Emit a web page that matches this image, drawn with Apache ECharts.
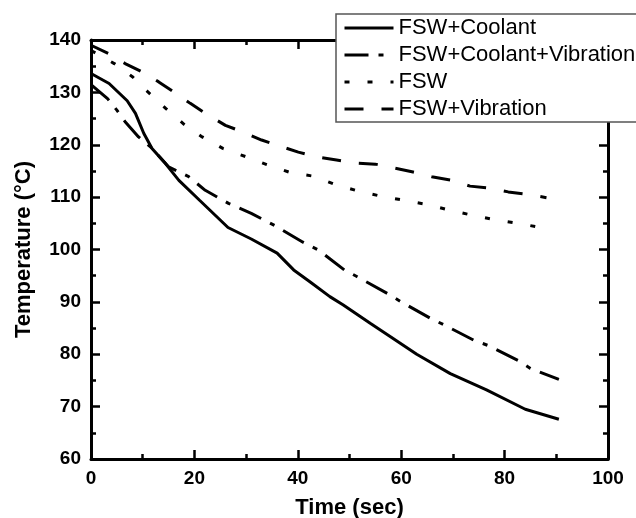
<!DOCTYPE html>
<html>
<head>
<meta charset="utf-8">
<script src="https://cdn.jsdelivr.net/npm/echarts@6/dist/echarts.min.js"></script>
<style>html,body{margin:0;padding:0;background:#fff;}#c{width:636px;height:518px;}</style>
</head>
<body>
<div id="c"></div>
<script>
var seriesNames = ['FSW+Coolant', 'FSW+Coolant+Vibration', 'FSW', 'FSW+Vibration'];

var timeCoolant = [0, 3.5, 7, 8.6, 10.2, 11.8, 14.4, 17, 21, 26.5, 31, 36, 39.2, 42.4, 46.2, 48.8, 54, 58, 63, 69.5, 76.5, 84, 90.5];
var tempCoolant = [133.6, 131.7, 128.4, 126, 122.2, 119.3, 116.4, 113.2, 109.4, 104.2, 102, 99.3, 96.1, 93.8, 91.0, 89.4, 85.9, 83.3, 80, 76.3, 73.2, 69.5, 67.6];

var timeCoolantVib = [0, 3.2, 5, 6.6, 9.2, 11.5, 15, 18.9, 22.1, 26.6, 31, 35.5, 41, 44, 49, 51.5, 57.5, 60, 65.6, 68.5, 74, 77, 83, 85, 90.5];
var tempCoolantVib = [131.5, 128.8, 126.6, 124.4, 121.5, 119.6, 115.8, 113.9, 111.3, 108.8, 106.9, 104.6, 101.4, 99.9, 96.1, 94.8, 91.5, 90, 86.9, 85.5, 82.7, 81.6, 78.6, 77.3, 75.2];

var timeFSW = [0, 4.5, 8, 11, 14.5, 18, 21.5, 25.5, 30, 34, 38.5, 43, 47, 51.5, 56, 60.5, 65, 69, 73.5, 78, 82.5, 87.5];
var tempFSW = [138, 135.5, 133, 130.1, 126.9, 123.9, 121.5, 119.3, 117.7, 116.2, 114.7, 114, 112.5, 111.2, 110.2, 109.4, 108.6, 107.6, 106.6, 105.7, 105, 104.1];

var timeVib = [0, 3.4, 6.6, 9.9, 13.1, 16, 19.2, 22.1, 26, 29.2, 33, 36.3, 40.1, 43.7, 47.5, 51.3, 55, 58.5, 62.3, 65.9, 69.8, 73.3, 77.2, 80.7, 84.6, 88.1];
var tempVib = [139, 137.4, 135.5, 133.9, 132, 130.1, 127.9, 126, 123.7, 122.5, 120.9, 119.8, 118.6, 117.7, 117.1, 116.5, 116.3, 115.6, 114.8, 113.9, 113.2, 112.1, 111.7, 111.0, 110.5, 109.9];

function pairs(xs, ys) { return xs.map(function (x, i) { return [x, ys[i]]; }); }

var FONT = '"Liberation Sans", Arial, sans-serif';
var dashes = ['solid', [24, 10, 5, 10], [5, 18], [19, 18]];
var xsAll = [timeCoolant, timeCoolantVib, timeFSW, timeVib];
var ysAll = [tempCoolant, tempCoolantVib, tempFSW, tempVib];

var chart = echarts.init(document.getElementById('c'), null, {renderer: 'canvas'});

function axisCommon(show) {
  return {
    axisLine: {show: true, onZero: false, lineStyle: {color: '#000', width: 3}},
    axisTick: {show: true, inside: true, length: 9, lineStyle: {color: '#000', width: 2.5}},
    minorTick: {show: true, splitNumber: 2, length: 5, lineStyle: {color: '#000', width: 2.5}},
    splitLine: {show: false},
    axisLabel: {show: show, color: '#000', fontFamily: FONT, fontWeight: 'bold', fontSize: 19}
  };
}

var xBottom = Object.assign(axisCommon(true), {
  type: 'value', min: 0, max: 100, interval: 20, position: 'bottom',
  name: 'Time (sec)', nameLocation: 'middle', nameGap: 38,
  nameTextStyle: {color: '#000', fontFamily: FONT, fontWeight: 'bold', fontSize: 22}
});
xBottom.axisLabel.margin = 10;
var xTop = Object.assign(axisCommon(false), {type: 'value', min: 0, max: 100, interval: 20, position: 'top'});
var yLeft = Object.assign(axisCommon(true), {
  type: 'value', min: 60, max: 140, interval: 10, position: 'left',
  name: 'Temperature (°C)', nameLocation: 'middle', nameGap: 56,
  nameTextStyle: {color: '#000', fontFamily: FONT, fontWeight: 'bold', fontSize: 22}
});
yLeft.axisLabel.margin = 10;
var yRight = Object.assign(axisCommon(false), {type: 'value', min: 60, max: 140, interval: 10, position: 'right'});

var series = seriesNames.map(function (name, i) {
  return {
    name: name, type: 'line', xAxisIndex: 0, yAxisIndex: 0,
    data: pairs(xsAll[i], ysAll[i]),
    symbol: 'none', smooth: false, animation: false,
    lineStyle: {color: '#000', width: 3, type: dashes[i], cap: 'butt'},
    itemStyle: {color: '#000'}
  };
});

chart.setOption({
  animation: false,
  backgroundColor: '#fff',
  grid: {left: 91, right: 28, top: 40, bottom: 59, containLabel: false, outerBoundsMode: 'none'},
  xAxis: [xBottom, xTop],
  yAxis: [yLeft, yRight],
  legend: {
    show: true, orient: 'vertical', left: 336, top: 14,
    backgroundColor: '#fff', borderColor: '#555', borderWidth: 1.5,
    padding: [2, 20, 1, 7], itemGap: 3, itemWidth: 49, itemHeight: 14,
    itemStyle: {opacity: 0},
    lineStyle: {width: 3, color: '#000'},
    textStyle: {color: '#000', fontFamily: FONT, fontSize: 22, lineHeight: 24},
    data: seriesNames,
    selectedMode: false
  },
  series: series
});
</script>
</body>
</html>
